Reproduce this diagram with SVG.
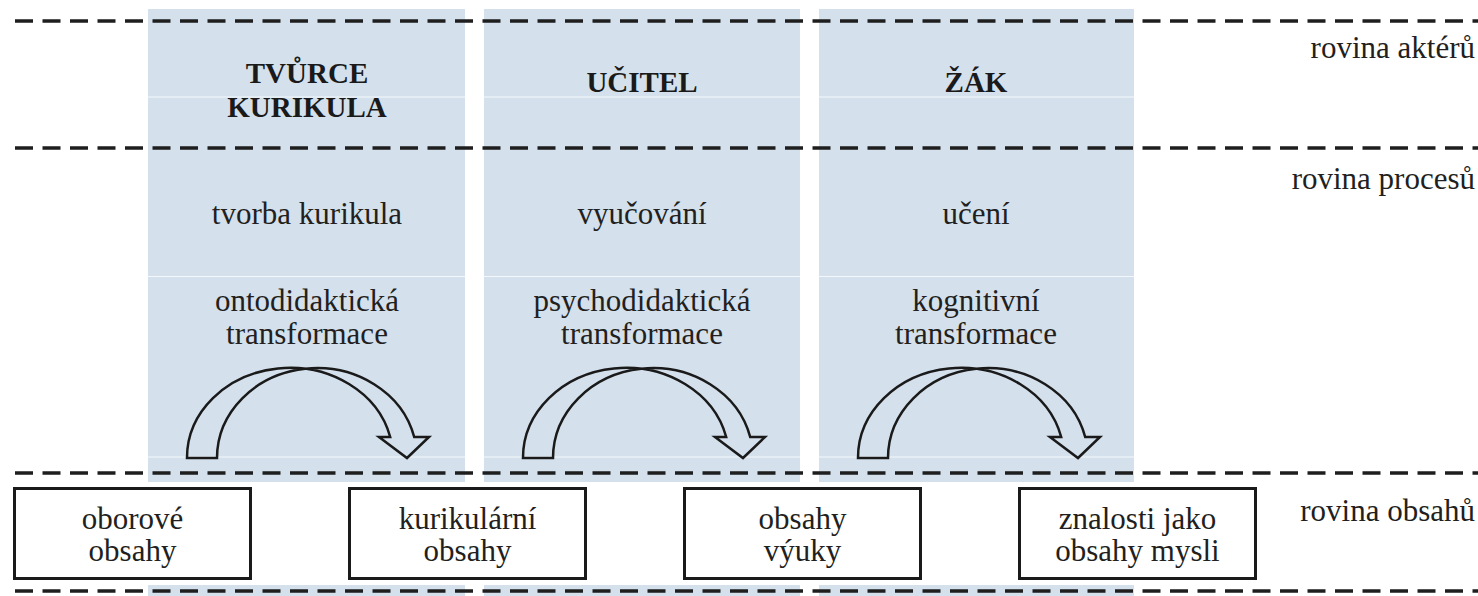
<svg xmlns="http://www.w3.org/2000/svg" width="1478" height="596" viewBox="0 0 1478 596">
<style>
.col{fill:#d4e1ed}
.seam{stroke:#f4f7fb;stroke-width:1}
.dash{stroke:#1e1e1e;stroke-width:3.5;stroke-dasharray:18 9.5;fill:none}
.t{font-family:"Liberation Serif","Times New Roman",serif;font-size:31px;fill:#231f20;text-anchor:middle}
.h{font-family:"Liberation Serif","Times New Roman",serif;font-size:29px;font-weight:bold;fill:#1a1a1a;text-anchor:middle}
.r{font-family:"Liberation Serif","Times New Roman",serif;font-size:31px;fill:#231f20;text-anchor:end}
.box{fill:#ffffff;stroke:#1a1a1a;stroke-width:3}
.arr{fill:none;stroke:#1a1a1a;stroke-width:2.5;stroke-linejoin:miter}
</style>
<rect width="1478" height="596" fill="#ffffff"/>
<g id="columns">
<rect class="col" x="148" y="9" width="317" height="473"/>
<rect class="col" x="148" y="585" width="317" height="11"/>
<rect class="col" x="484" y="9" width="316" height="473"/>
<rect class="col" x="484" y="585" width="316" height="11"/>
<rect class="col" x="819" y="9" width="315" height="473"/>
<rect class="col" x="819" y="585" width="315" height="11"/>
<path class="seam" d="M148,97H465M484,97H800M819,97H1134M148,276.5H465M484,276.5H800M819,276.5H1134M148,457H465M484,457H800M819,457H1134"/>
</g>
<g id="levels">
<line class="dash" x1="15" y1="21" x2="1478" y2="21"/>
<line class="dash" x1="15" y1="148" x2="1478" y2="148"/>
<line class="dash" x1="15" y1="473" x2="1478" y2="473"/>
<line class="dash" x1="15" y1="591" x2="1478" y2="591"/>
<text class="r" x="1475" y="58">rovina aktérů</text>
<text class="r" x="1475" y="189">rovina procesů</text>
<text class="r" x="1475" y="521">rovina obsahů</text>
</g>
<g id="tvurce">
<text class="h" x="307" y="83">TVŮRCE</text>
<text class="h" x="307" y="117">KURIKULA</text>
<text class="t" x="307" y="224">tvorba kurikula</text>
<text class="t" x="307" y="311">ontodidaktická</text>
<text class="t" x="307" y="344">transformace</text>
</g>
<g id="ucitel">
<text class="h" x="642" y="92">UČITEL</text>
<text class="t" x="642" y="224">vyučování</text>
<text class="t" x="642" y="311">psychodidaktická</text>
<text class="t" x="642" y="344">transformace</text>
</g>
<g id="zak">
<text class="h" x="976" y="92">ŽÁK</text>
<text class="t" x="976" y="224">učení</text>
<text class="t" x="976" y="311">kognitivní</text>
<text class="t" x="976" y="344">transformace</text>
</g>
<g id="box-oborove">
<rect class="box" x="14.5" y="488.5" width="236" height="90"/>
<text class="t" x="132.5" y="529">oborové</text>
<text class="t" x="132.5" y="561">obsahy</text>
</g>
<g id="box-kurikularni">
<rect class="box" x="349.5" y="488.5" width="236" height="90"/>
<text class="t" x="467.5" y="529">kurikulární</text>
<text class="t" x="467.5" y="561">obsahy</text>
</g>
<g id="box-vyuky">
<rect class="box" x="684.5" y="488.5" width="236" height="90"/>
<text class="t" x="802.5" y="529">obsahy</text>
<text class="t" x="802.5" y="561">výuky</text>
</g>
<g id="box-mysli">
<rect class="box" x="1019.5" y="488.5" width="236" height="90"/>
<text class="t" x="1137.5" y="529">znalosti jako</text>
<text class="t" x="1137.5" y="561">obsahy mysli</text>
</g>
<g id="connectors">
<path id="arrow-1" class="arr" d="M187,458 A103,90 0 0 1 390.2,437 L379,437 L407,458 L429,437 L414.2,437 A100,90 0 0 0 217,458 Z"/>
<path id="arrow-2" class="arr" transform="translate(336,0)" d="M187,458 A103,90 0 0 1 390.2,437 L379,437 L407,458 L429,437 L414.2,437 A100,90 0 0 0 217,458 Z"/>
<path id="arrow-3" class="arr" transform="translate(671,0)" d="M187,458 A103,90 0 0 1 390.2,437 L379,437 L407,458 L429,437 L414.2,437 A100,90 0 0 0 217,458 Z"/>
</g>
</svg>
